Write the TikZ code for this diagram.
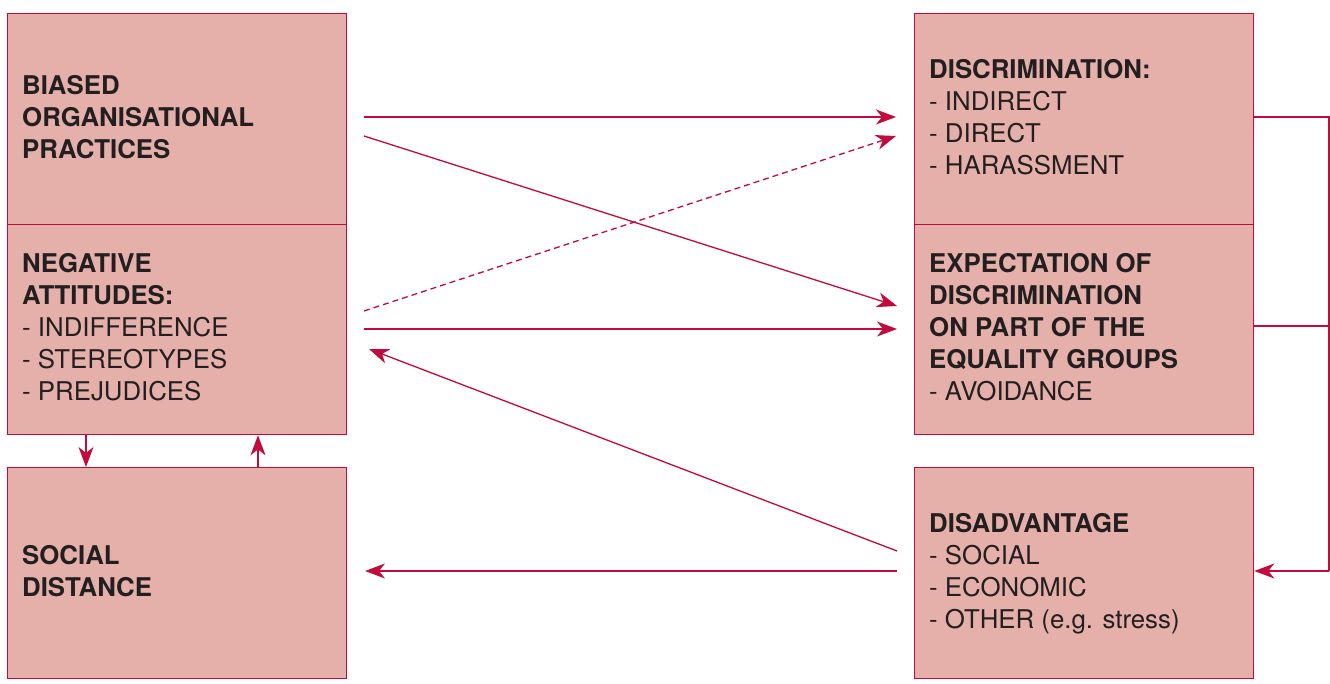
\documentclass[tikz,border=0pt]{standalone}
\usepackage{fontspec}
\setmainfont{TeX Gyre Heros}
\usetikzlibrary{arrows.meta,calc}
\definecolor{boxfill}{RGB}{229,176,170}
\definecolor{linecol}{RGB}{194,10,60}
\definecolor{txt}{RGB}{35,31,32}
\begin{document}
\begin{tikzpicture}[x=1pt,y=-1pt,
  box/.style={draw=linecol,fill=boxfill,line width=1.3pt,anchor=north west,inner sep=0pt,minimum width=339pt},
  lbl/.style={anchor=north west,inner sep=0pt,align=left,text=txt,font=\fontsize{25.8}{32}\selectfont},
  arr/.style={draw=linecol,line width=1.3pt,-{Stealth[length=20pt,width=15pt,inset=6pt]}},
  conn/.style={draw=linecol,line width=1.3pt}]
\useasboundingbox (0,0) rectangle (1330,684);
% boxes
\node[box,minimum height=211pt] (L1) at (7,13) {};
\node[box,minimum height=210pt] (L2) at (7,224) {};
\node[box,minimum height=211pt] (L3) at (7,467) {};
\node[box,minimum height=211pt] (R1) at (914,13) {};
\node[box,minimum height=210pt] (R2) at (914,224) {};
\node[box,minimum height=211pt] (R3) at (914,467) {};
% labels
\node[lbl] (t1) at (22,75) {\textbf{BIASED}\\\textbf{ORGANISATIONAL}\\\textbf{PRACTICES}};
\node[lbl] (t2) at (22,253) {\textbf{NEGATIVE}\\\textbf{ATTITUDES:}\\- INDIFFERENCE\\- STEREOTYPES\\- PREJUDICES};
\node[lbl] (t3) at (22,545) {\textbf{SOCIAL}\\\textbf{DISTANCE}};
\node[lbl] (t4) at (929,59) {\textbf{DISCRIMINATION:}\\- INDIRECT\\- DIRECT\\- HARASSMENT};
\node[lbl] (t5) at (929,253) {\textbf{EXPECTATION OF}\\\textbf{DISCRIMINATION}\\\textbf{ON PART OF THE}\\\textbf{EQUALITY GROUPS}\\- AVOIDANCE};
\node[lbl] (t6) at (929,513) {\textbf{DISADVANTAGE}\\- SOCIAL\\- ECONOMIC\\- OTHER (e.g. stress)};
% endpoints
\coordinate (a1s) at (364,117); \coordinate (a1e) at (896,117);
\coordinate (a2s) at (364,136); \coordinate (a2e) at (897,306);
\coordinate (a3s) at (364,311); \coordinate (a3e) at (896,136);
\coordinate (a4s) at (364,329); \coordinate (a4e) at (897,329);
\coordinate (a5s) at (897,551); \coordinate (a5e) at (369,349);
\coordinate (a6s) at (897,571); \coordinate (a6e) at (365,571);
\coordinate (b1) at (1329,117); \coordinate (b2) at (1329,326); \coordinate (b3) at (1329,571);
% arrows
\draw[arr] (a1s) -- (a1e);
\draw[arr] (a2s) -- (a2e);
\draw[arr,dash pattern=on 6pt off 4pt] (a3s) -- (a3e);
\draw[arr] (a4s) -- (a4e);
\draw[arr] (a5s) -- (a5e);
\draw[arr] (a6s) -- (a6e);
\draw[arr] (L2.south west -| 86,0) -- (L3.north west -| 86,0);
\draw[arr] (L3.north west -| 258,0) -- (L2.south west -| 258,0);
\draw[conn] (R1.east |- 0,117) -- (b1) -- (b3);
\draw[conn] (R2.east |- 0,326) -- (b2);
\draw[arr] (b3) -- (R3.east |- 0,571);
\end{tikzpicture}
\end{document}
